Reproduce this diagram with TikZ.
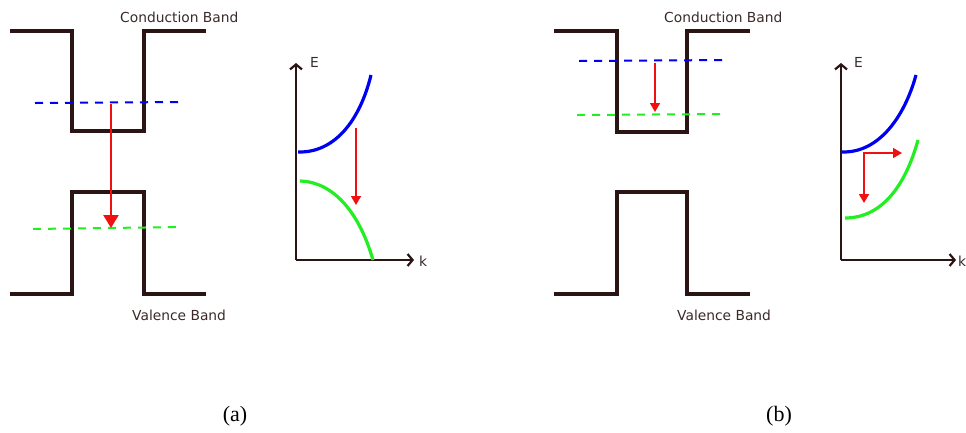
\documentclass[tikz,border=0pt]{standalone}
\usepackage{fontspec}
\setmainfont{Liberation Serif}
\newfontfamily\bandfont{DejaVu Sans}
\usetikzlibrary{arrows.meta}
\definecolor{band}{HTML}{2B1414}
\definecolor{labtxt}{HTML}{3A2A2A}
\definecolor{cbblue}{HTML}{0000F0}
\definecolor{vbgreen}{HTML}{22EE22}
\definecolor{trred}{HTML}{F01010}
\tikzset{
  bandline/.style={draw=band, line width=4.5pt, line join=miter},
  blevel/.style={draw=cbblue, line width=2pt, dash pattern=on 8pt off 7pt},
  glevel/.style={draw=vbgreen, line width=2pt, dash pattern=on 8pt off 7pt},
  axisline/.style={draw=band, line width=2.5pt, -{Straight Barb[length=5pt,width=12pt,line width=2.2pt]}},
  bluecurve/.style={draw=cbblue, line width=3.2pt},
  greencurve/.style={draw=vbgreen, line width=3.2pt},
  bigred/.style={draw=trred, line width=2.3pt, -{Triangle[length=13pt,width=15pt]}},
  smallred/.style={draw=trred, line width=1.6pt, -{Triangle[length=9pt,width=10pt]}},
  bandlabel/.style={font=\bandfont\fontsize{13.8}{16}\selectfont, text=labtxt, inner sep=0pt},
  caption/.style={font=\fontsize{22}{26}\selectfont, inner sep=0pt}
}
\begin{document}
\begin{tikzpicture}[x=1pt,y=-1pt]
\useasboundingbox (0,0) rectangle (966,432);
% ---------- panel (a) ----------
\draw[bandline] (10,31) -- (72,31) -- (72,131) -- (144,131) -- (144,31) -- (206,31);
\draw[bandline] (10,294) -- (72,294) -- (72,192) -- (144,192) -- (144,294) -- (206,294);
\draw[blevel] (35,103) -- (183,102);
\draw[glevel] (33,229) -- (182,227);
\coordinate (a1) at (111,104);
\coordinate (a2) at (111,228);
\draw[bigred] (a1) -- (a2);
\node[bandlabel, anchor=base west] (cba) at (120,22) {Conduction Band};
\node[bandlabel, anchor=base west] (vba) at (132,320) {Valence Band};
% graph (a)
\coordinate (oa) at (296,260);
\coordinate (ea) at (296,63);
\coordinate (ka) at (414,260);
\draw[axisline] (oa) -- (ea);
\draw[axisline] (oa) -- (ka);
\node[bandlabel, anchor=base west] (Ea) at (310,67) {E};
\node[bandlabel, anchor=base west] (kla) at (419,266) {k};
\draw[bluecurve] (298,152) .. controls (335,153) and (360,120) .. (371,75);
\draw[greencurve] (300,181) .. controls (335,182) and (360,215) .. (373,260);
\coordinate (ra1) at (356,128);
\coordinate (ra2) at (356,205);
\draw[smallred] (ra1) -- (ra2);
\node[caption] (capa) at (235,416) {(a)};
% ---------- panel (b) ----------
\draw[bandline] (554,31) -- (617,31) -- (617,132) -- (687,132) -- (687,31) -- (750,31);
\draw[bandline] (554,294) -- (617,294) -- (617,192) -- (687,192) -- (687,294) -- (750,294);
\draw[blevel] (579,61) -- (728,60);
\draw[glevel] (577,115) -- (726,114);
\coordinate (b1) at (655,63);
\coordinate (b2) at (655,112);
\draw[smallred] (b1) -- (b2);
\node[bandlabel, anchor=base west] (cbb) at (664,22) {Conduction Band};
\node[bandlabel, anchor=base west] (vbb) at (677,320) {Valence Band};
% graph (b)
\coordinate (ob) at (841,260);
\coordinate (eb) at (841,63);
\coordinate (kb) at (956,260);
\draw[axisline] (ob) -- (eb);
\draw[axisline] (ob) -- (kb);
\node[bandlabel, anchor=base west] (Eb) at (854,67) {E};
\node[bandlabel, anchor=base west] (klb) at (958,266) {k};
\draw[bluecurve] (842,152) .. controls (880,153) and (905,115) .. (916,75);
\draw[greencurve] (845,218) .. controls (885,218) and (907,180) .. (918,140);
\coordinate (rc) at (864,153);
\coordinate (rh) at (902,153);
\coordinate (rv) at (864,203);
\draw[smallred] ([xshift=-0.8pt]rc) -- (rh);
\draw[smallred] (rc) -- (rv);
\node[caption] (capb) at (779,416) {(b)};
\end{tikzpicture}
\end{document}
